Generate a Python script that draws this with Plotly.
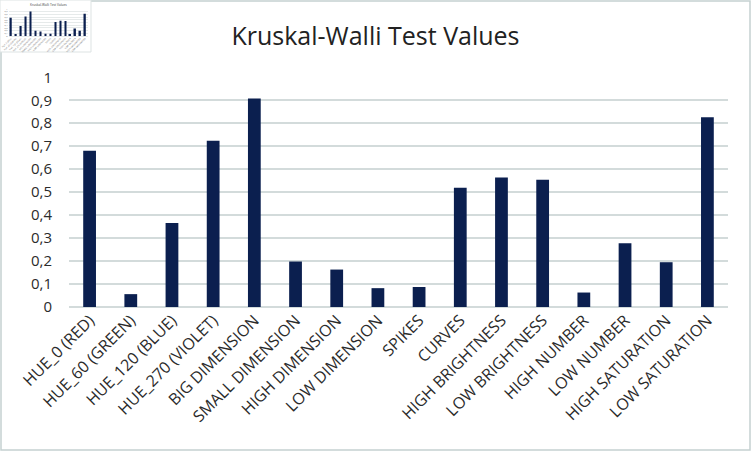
import plotly.graph_objects as go

categories = ["HUE_0 (RED)", "HUE_60 (GREEN)", "HUE_120 (BLUE)", "HUE_270 (VIOLET)",
              "BIG DIMENSION", "SMALL DIMENSION", "HIGH DIMENSION", "LOW DIMENSION",
              "SPIKES", "CURVES", "HIGH BRIGHTNESS", "LOW BRIGHTNESS",
              "HIGH NUMBER", "LOW NUMBER", "HIGH SATURATION", "LOW SATURATION"]
values = [0.680, 0.056, 0.366, 0.724, 0.908, 0.198, 0.163, 0.082,
          0.087, 0.519, 0.564, 0.554, 0.063, 0.278, 0.195, 0.826]
y_tickvals = [0, 0.1, 0.2, 0.3, 0.4, 0.5, 0.6, 0.7, 0.8, 0.9, 1]
y_ticktext = ["0", "0,1", "0,2", "0,3", "0,4", "0,5", "0,6", "0,7", "0,8", "0,9", "1"]
title_text = "Kruskal-Walli Test Values"

W, H = 751, 451
BAR = "#0b1f4f"
GRID = "#d3dbdb"
LABEL = "#2b2b2b"
FONT = "Open Sans"

def px(x):
    return x / W

def py(y):
    return 1 - y / H

fig = go.Figure()
fig.add_trace(go.Bar(x=categories, y=values, marker=dict(color=BAR, line=dict(width=0)),
                     width=0.31, xaxis="x", yaxis="y", showlegend=False))
# thumbnail copy
fig.add_trace(go.Bar(x=categories, y=values, marker=dict(color=BAR, line=dict(width=0)),
                     width=0.31, xaxis="x2", yaxis="y2", showlegend=False))

shapes = [
    dict(type="rect", xref="paper", yref="paper", x0=px(1), x1=px(750), y0=py(450), y1=py(1),
         line=dict(color="#c5d1d1", width=1.5), fillcolor="rgba(0,0,0,0)", layer="below"),
    dict(type="rect", xref="paper", yref="paper", x0=px(0), x1=px(91), y0=py(52), y1=py(0),
         line=dict(color="#dde3e3", width=1), fillcolor="white", layer="below"),
]

fig.update_layout(
    width=W, height=H,
    margin=dict(l=0, r=0, t=0, b=0),
    paper_bgcolor="white", plot_bgcolor="white",
    font=dict(family=FONT, color=LABEL, size=13),
    shapes=shapes,
    title=dict(text=title_text, x=0.5, xanchor="center", xref="paper",
               y=py(36), yanchor="middle", yref="container",
               font=dict(family=FONT, size=25, color="#222222")),
    xaxis=dict(domain=[px(69), px(728)], type="category", tickangle=-45,
               showgrid=False, showline=False, ticks="", zeroline=False,
               tickfont=dict(size=16, color=LABEL), automargin=False, fixedrange=True),
    yaxis=dict(domain=[py(307), py(77.3)], range=[0, 1], tickvals=y_tickvals, ticktext=y_ticktext,
               showgrid=True, gridcolor=GRID, gridwidth=1.5, zeroline=True, zerolinecolor=GRID,
               zerolinewidth=1.5, showline=False, ticks="", ticklabelstandoff=16,
               tickfont=dict(size=15, color=LABEL), automargin=False, fixedrange=True),
    xaxis2=dict(domain=[px(8.5), px(87.5)], type="category", tickangle=-45, anchor="y2",
                showgrid=False, showline=False, ticks="", tickfont=dict(size=2.2, color="#666"),
                automargin=False),
    yaxis2=dict(domain=[py(36), py(9)], range=[0, 1], anchor="x2", tickvals=y_tickvals,
                ticktext=y_ticktext, showgrid=True, gridcolor="#e6eaea", gridwidth=0.5,
                zeroline=True, zerolinecolor="#e6eaea", zerolinewidth=0.5, ticks="",
                tickfont=dict(size=2.2, color="#666"), automargin=False),
    annotations=[dict(text=title_text, xref="paper", yref="paper", x=px(48), y=py(4.5),
                      xanchor="center", yanchor="middle", showarrow=False,
                      font=dict(family=FONT, size=3.2, color="#444"))],
)

fig.write_html("out.html")
